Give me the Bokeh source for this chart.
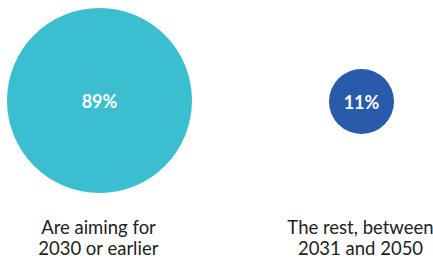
from bokeh.plotting import figure
from bokeh.models import Range1d, ColumnDataSource
from bokeh.core.properties import value
from bokeh.embed import file_html
from bokeh.resources import INLINE
import math

# Data
categories = ["Are aiming for\n2030 or earlier", "The rest, between\n2031 and 2050"]
shares = [89, 11]
share_labels = ["89%", "11%"]
colors = ["#3BBFD0", "#2A5BAA"]

W, H = 433, 258
p = figure(width=W, height=H, output_backend="svg", toolbar_location=None,
           x_range=Range1d(0, W), y_range=Range1d(H, 0),
           min_border=0, outline_line_color=None)
p.axis.visible = False
p.grid.visible = False
p.background_fill_color = "white"
p.border_fill_color = "white"

k = 92.5 / math.sqrt(89)
xs = [99, 361]
cy = 100
src = ColumnDataSource(dict(
    x=xs, y=[cy, cy + 1], r=[k * math.sqrt(v) for v in shares],
    c=colors, lab=share_labels,
    line1=[c.split("\n")[0] for c in categories],
    line2=[c.split("\n")[1] for c in categories],
    tx=[xs[0] - 1, xs[1] - 1],
    y1=[226, 226], y2=[247, 247],
))
p.circle(x="x", y="y", radius="r", fill_color="c", line_color=None, source=src)
p.text(x="x", y="y", text="lab", text_color="white", text_font=value("Lato"),
       text_font_style="bold", text_font_size="18px", text_align="center",
       text_baseline="middle", source=src)
p.text(x="tx", y="y1", text="line1", text_color="#222222", text_font=value("Lato"),
       text_font_size="18.5px", text_align="center", text_baseline="middle", source=src)
p.text(x="tx", y="y2", text="line2", text_color="#222222", text_font=value("Lato"),
       text_font_size="18.5px", text_align="center", text_baseline="middle", source=src)

open("out.html", "w").write(file_html(p, INLINE))
